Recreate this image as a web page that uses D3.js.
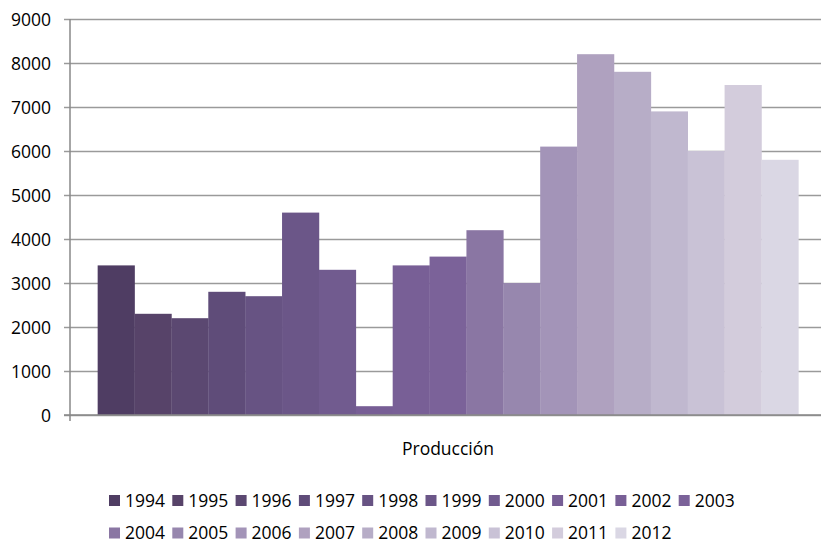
<!DOCTYPE html>
<html>
<head>
<meta charset="utf-8">
<script src="https://cdn.jsdelivr.net/npm/d3@7"></script>
<style>
  html, body { margin: 0; padding: 0; background: #fff; }
  svg { display: block; }
  text { font-family: "Open Sans", "Liberation Sans", Arial, sans-serif; fill: #000; }
</style>
</head>
<body>
<svg id="chart" width="821" height="544"></svg>
<script>
const category = "Producción";
const years = ["1994","1995","1996","1997","1998","1999","2000","2001","2002","2003",
               "2004","2005","2006","2007","2008","2009","2010","2011","2012"];
const values = [3400, 2300, 2200, 2800, 2700, 4600, 3300, 200, 3400, 3600,
                4200, 3000, 6100, 8200, 7800, 6900, 6000, 7500, 5800];
const colors = ["#4f3d63","#574369","#5b4871","#5f4c79","#675383","#6b5688","#715b8f","#775e95","#785f96","#7b6299",
                "#8a76a3","#9787ae","#a394b8","#afa1bf","#b7adc7","#c0b8cf","#c9c2d6","#d3ccdc","#dad7e4"];
const yTicks = [0, 1000, 2000, 3000, 4000, 5000, 6000, 7000, 8000, 9000];

(function () {
const svg = d3.select("#chart");
const pLeft = 70, pRight = 826, pTop = 19, pBottom = 415;
const FONT = "'Open Sans', 'Liberation Sans', Arial, sans-serif";
const FS = 17.5;

const x0 = d3.scaleBand().domain([category]).range([pLeft, pRight])
  .paddingInner(0).paddingOuter(0.75 / years.length);
const x1 = d3.scaleBand().domain(years).range([0, x0.bandwidth()]).padding(0);
const y = d3.scaleLinear().domain([0, 9000]).range([pBottom, pTop]);
const color = d3.scaleOrdinal().domain(years).range(colors);

// gridlines + y axis
const yAxis = d3.axisLeft(y).tickValues(yTicks).tickFormat(d3.format("d"))
  .tickSize(-(821 - pLeft)).tickSizeOuter(0).tickPadding(0);
const gy = svg.append("g").attr("transform", `translate(${pLeft},0)`).call(yAxis);
gy.select(".domain").remove();
gy.selectAll(".tick line").attr("x1", -6).attr("stroke", "#9a9a9a").attr("stroke-width", 1.5);
gy.selectAll(".tick text").attr("x", -19).attr("font-size", FS)
  .style("font-family", FONT).attr("fill", "#000").attr("dy", "0.35em");

// bars
svg.append("g").selectAll("rect").data(years).join("rect")
  .attr("x", (d) => x0(category) + x1(d))
  .attr("width", x1.bandwidth() + 0.3)
  .attr("y", (d, i) => y(values[i]))
  .attr("height", (d, i) => y(0) - y(values[i]))
  .attr("fill", (d) => color(d));

// axes lines
svg.append("line").attr("x1", pLeft).attr("x2", pLeft).attr("y1", pTop).attr("y2", pBottom + 6)
  .attr("stroke", "#888").attr("stroke-width", 1.5);
svg.append("line").attr("x1", pLeft - 6).attr("x2", 821).attr("y1", y(0)).attr("y2", y(0))
  .attr("stroke", "#888").attr("stroke-width", 1.5);

// category label
svg.append("text").attr("x", x0(category) + x0.bandwidth() / 2).attr("y", 455)
  .attr("text-anchor", "middle").attr("font-size", FS).text(category);

// legend
const perRow = 10, itemW = 63.3, lx = 109, rowY = [495, 527.5];
const leg = svg.append("g").selectAll("g").data(years).join("g")
  .attr("transform", (d, i) => `translate(${lx + (i % perRow) * itemW},${rowY[Math.floor(i / perRow)]})`);
leg.append("rect").attr("width", 11).attr("height", 11).attr("fill", (d) => color(d));
leg.append("text").attr("x", 16).attr("y", 11.5).attr("font-size", FS).text((d) => d);
})();
</script>
</body>
</html>
